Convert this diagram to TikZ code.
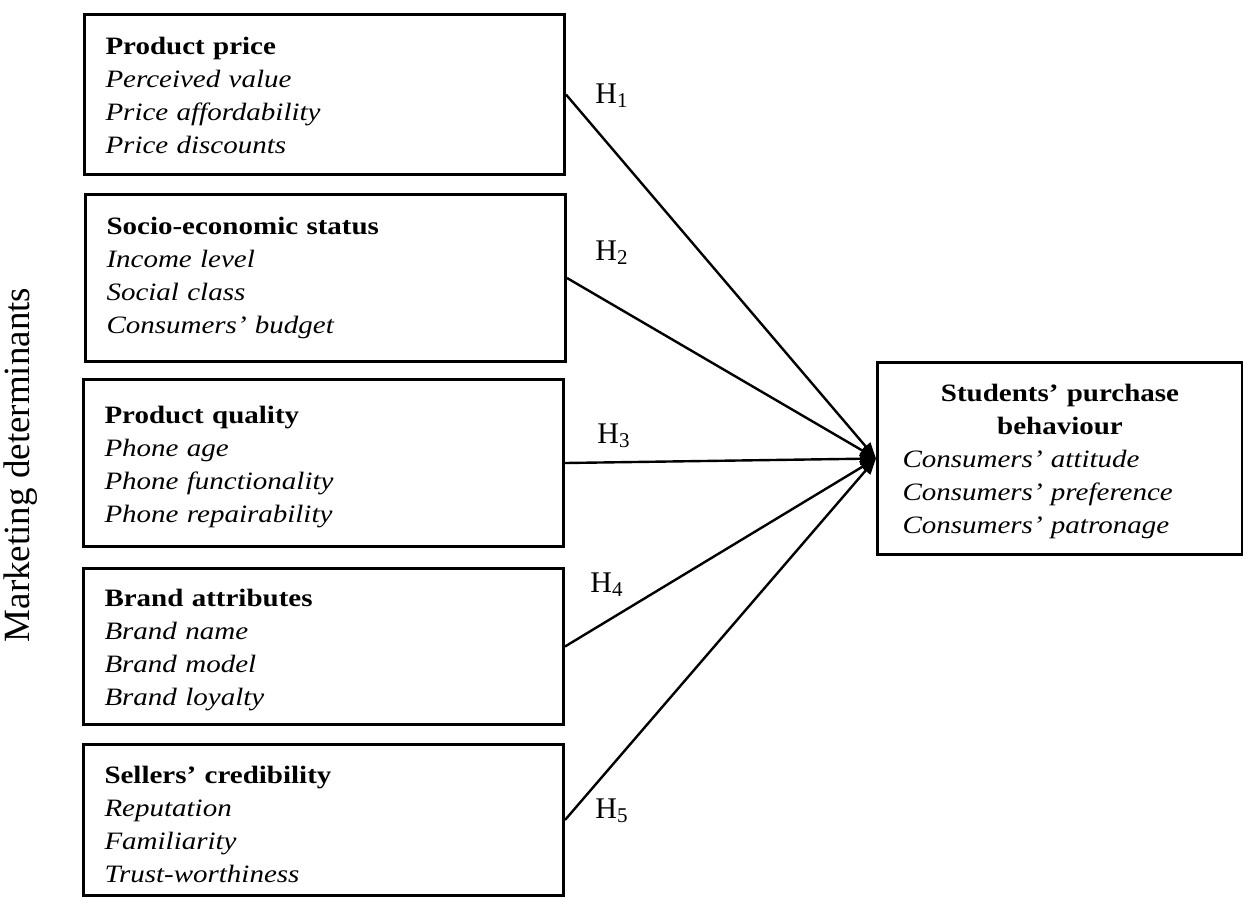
\documentclass[tikz,border=0pt]{standalone}
\usepackage{fontspec}
\setmainfont{Liberation Serif}[FakeStretch=1.16]
\newfontfamily\sidefont{Liberation Serif}
\usetikzlibrary{positioning,arrows.meta}

\begin{document}
\begin{tikzpicture}[x=0.5pt, y=-0.5pt,
  font=\fontsize{12.5}{16.5}\selectfont,
  detbox/.style={draw, line width=1.5pt, anchor=north west, minimum width=240pt,
    text width=219pt, align=left, inner xsep=10.5pt, inner ysep=0pt, text height=20pt},
  conn/.style={line width=1.2pt, -{Triangle[length=8pt,width=6pt]}},
  hyp/.style={anchor=base west, inner sep=0pt, font=\sidefont\fontsize{15}{17}\selectfont}]
  \useasboundingbox (0,0) rectangle (1243,896);
  % determinant boxes
  \node[detbox, text depth=60pt] (price) at (83,13)
    {\textbf{Product price}\\\textit{Perceived value}\\\textit{Price affordability}\\\textit{Price discounts}};
  \node[detbox, text depth=63.5pt] (socio) at (84,193)
    {\textbf{Socio-economic status}\\\textit{Income level}\\\textit{Social class}\\\textit{Consumers' budget}};
  \node[detbox, text height=22pt, text depth=61.5pt] (quality) at (82,378)
    {\textbf{Product quality}\\\textit{Phone age}\\\textit{Phone functionality}\\\textit{Phone repairability}};
  \node[detbox, text height=19pt, text depth=59pt] (brand) at (82,567)
    {\textbf{Brand attributes}\\\textit{Brand name}\\\textit{Brand model}\\\textit{Brand loyalty}};
  \node[detbox, text height=19.5pt, text depth=56pt] (seller) at (82,743)
    {\textbf{Sellers' credibility}\\\textit{Reputation}\\\textit{Familiarity}\\\textit{Trust-worthiness}};
  % outcome box
  \node[draw, line width=1.5pt, anchor=north west, minimum width=182.5pt, text width=157.5pt,
    align=left, inner xsep=12.5pt, inner ysep=0pt, text height=19.5pt, text depth=76.5pt] (behav) at (876,361)
    {{\centering\textbf{Students' purchase\\behaviour}\par}\textit{Consumers' attitude}\\\textit{Consumers' preference}\\\textit{Consumers' patronage}};
  \node[rotate=90, font=\sidefont\fontsize{18.5}{20}\selectfont] (mkt) at (21,465) {Marketing determinants};
  % hypotheses
  \draw[conn] (price.east) -- (behav.west);
  \draw[conn] (socio.east) -- (behav.west);
  \draw[conn] (quality.east) -- (behav.west);
  \draw[conn] (brand.east) -- (behav.west);
  \draw[conn] (seller.east) -- (behav.west);
  \node[hyp] (h1) at (595,103) {H\textsubscript{1}};
  \node[hyp] (h2) at (595,260) {H\textsubscript{2}};
  \node[hyp] (h3) at (597,443) {H\textsubscript{3}};
  \node[hyp] (h4) at (590,592) {H\textsubscript{4}};
  \node[hyp] (h5) at (595,818) {H\textsubscript{5}};
\end{tikzpicture}
\end{document}
